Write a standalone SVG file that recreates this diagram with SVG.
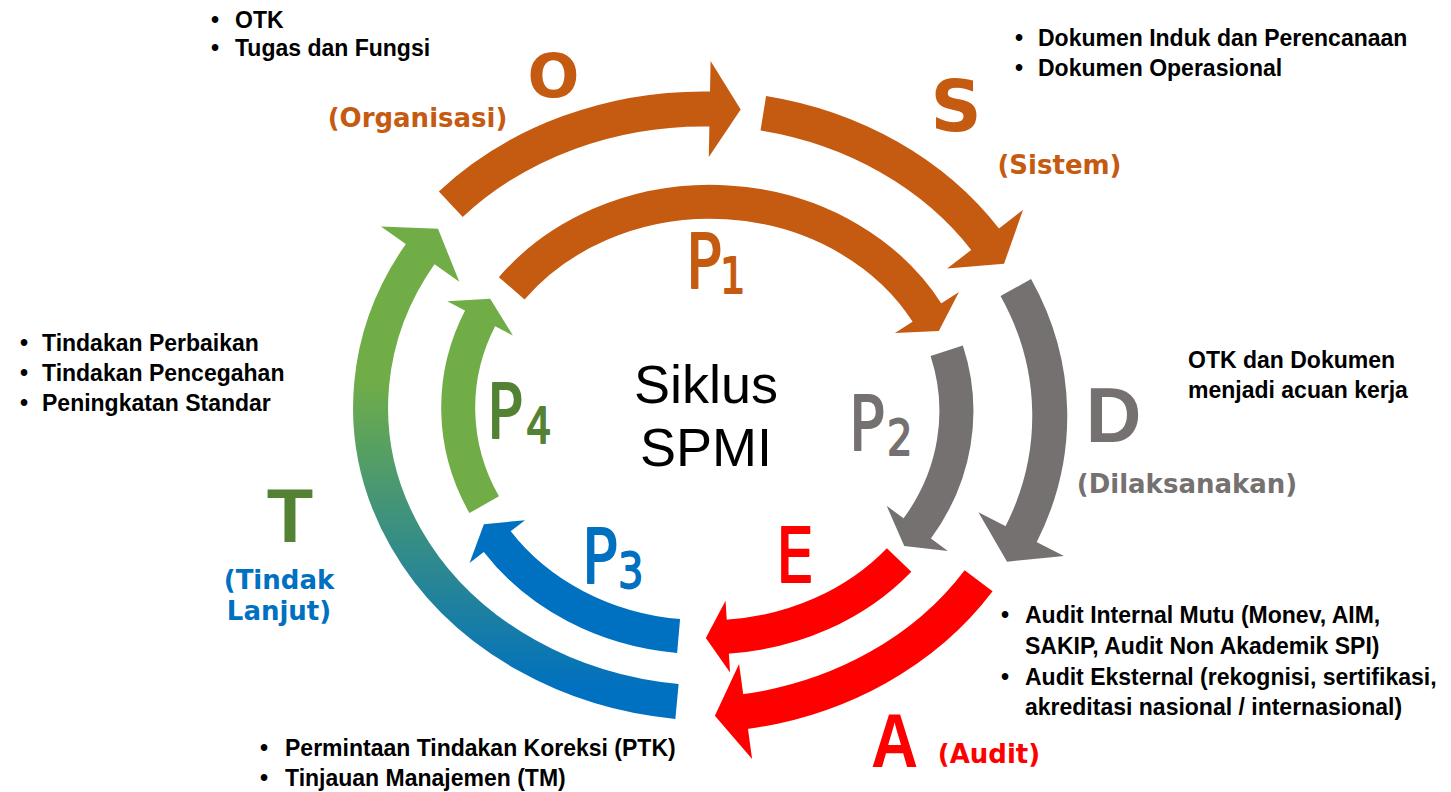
<svg xmlns="http://www.w3.org/2000/svg" width="1451" height="792" viewBox="0 0 1451 792">
<style>
.b{font-family:"Liberation Sans",Arial,sans-serif;font-weight:bold;font-size:23px;fill:#000}
.lab{font-family:"DejaVu Sans",Verdana,sans-serif;font-weight:bold;font-size:26px}
.big{font-family:"Liberation Sans",Arial,sans-serif;font-weight:bold}
.vb{font-family:"DejaVu Sans",Verdana,sans-serif;font-weight:bold}
.cn{font-family:"DejaVu Sans",Verdana,sans-serif;font-weight:normal;stroke-width:1.8px;stroke-linejoin:round}
.ctr{font-family:"Liberation Sans",Arial,sans-serif;font-size:54px;fill:#000;text-anchor:middle}
.arc{fill:none;stroke-linecap:butt}
.o{stroke-width:35px}
.i{stroke-width:34px}
</style>
<defs>
<linearGradient id="gT" gradientUnits="userSpaceOnUse" x1="0" y1="380" x2="0" y2="690">
<stop offset="0" stop-color="#70AD47"/>
<stop offset="1" stop-color="#0070C0"/>
</linearGradient>
<marker id="mOo" markerUnits="userSpaceOnUse" orient="auto" viewBox="-2 -50 40 100" markerWidth="40" markerHeight="100" refX="0" refY="0" overflow="visible"><path d="M-1,-48 L30,0 L-1,48 Z" fill="#C55A11"/></marker>
<marker id="mOg" markerUnits="userSpaceOnUse" orient="auto" viewBox="-2 -50 40 100" markerWidth="40" markerHeight="100" refX="0" refY="0" overflow="visible"><path d="M-1,-48 L30,0 L-1,48 Z" fill="#767171"/></marker>
<marker id="mOr" markerUnits="userSpaceOnUse" orient="auto" viewBox="-2 -50 40 100" markerWidth="40" markerHeight="100" refX="0" refY="0" overflow="visible"><path d="M-1,-48 L30,0 L-1,48 Z" fill="#FF0000"/></marker>
<marker id="mOn" markerUnits="userSpaceOnUse" orient="auto" viewBox="-2 -50 40 100" markerWidth="40" markerHeight="100" refX="0" refY="0" overflow="visible"><path d="M-1,-48 L30,0 L-1,48 Z" fill="#70AD47"/></marker>
<marker id="mIo" markerUnits="userSpaceOnUse" orient="auto" viewBox="-2 -40 30 80" markerWidth="30" markerHeight="80" refX="0" refY="0" overflow="visible"><path d="M-1,-38 L21,0 L-1,38 Z" fill="#C55A11"/></marker>
<marker id="mIg" markerUnits="userSpaceOnUse" orient="auto" viewBox="-2 -40 30 80" markerWidth="30" markerHeight="80" refX="0" refY="0" overflow="visible"><path d="M-1,-38 L21,0 L-1,38 Z" fill="#767171"/></marker>
<marker id="mIr" markerUnits="userSpaceOnUse" orient="auto" viewBox="-2 -40 30 80" markerWidth="30" markerHeight="80" refX="0" refY="0" overflow="visible"><path d="M-1,-36 L21,0 L-1,36 Z" fill="#FF0000"/></marker>
<marker id="mIb" markerUnits="userSpaceOnUse" orient="auto" viewBox="-2 -40 30 80" markerWidth="30" markerHeight="80" refX="0" refY="0" overflow="visible"><path d="M-1,-35 L21,0 L-1,35 Z" fill="#0070C0"/></marker>
<marker id="mIn" markerUnits="userSpaceOnUse" orient="auto" viewBox="-2 -40 30 80" markerWidth="30" markerHeight="80" refX="0" refY="0" overflow="visible"><path d="M-1,-37 L21,0 L-1,37 Z" fill="#70AD47"/></marker>
</defs>
<rect width="1451" height="792" fill="#fff"/>

<g id="connectors">
<path id="arrow-O" class="arc o" stroke="#C55A11" d="M450.8,204.2 A343.5,296 0 0 1 710.7,109" marker-end="url(#mOo)"/>
<path id="arrow-S" class="arc o" stroke="#C55A11" d="M763.3,113.3 A343.5,296 0 0 1 985.7,240" marker-end="url(#mOo)"/>
<path id="arrow-D" class="arc o" stroke="#767171" d="M1015.8,287.5 A343.5,296 0 0 1 1020.7,535" marker-end="url(#mOg)"/>
<path id="arrow-A" class="arc o" stroke="#FF0000" d="M978.6,580.8 A343.5,296 0 0 1 744.6,711.7" marker-end="url(#mOr)"/>
<path id="arrow-T" class="arc o" stroke="url(#gT)" d="M677,701.5 A343.5,296 0 0 1 420.7,253.3" marker-end="url(#mOn)"/>
<path id="arrow-P1" class="arc i" stroke="#C55A11" d="M511.7,288.3 A249,218 0 0 1 927.5,313.3" marker-end="url(#mIo)"/>
<path id="arrow-P2" class="arc i" stroke="#767171" d="M946.7,350.8 A249,218 0 0 1 916.7,529.2" marker-end="url(#mIg)"/>
<path id="arrow-E" class="arc i" stroke="#FF0000" d="M899.1,560 A249,218 0 0 1 726.8,636.7" marker-end="url(#mIr)"/>
<path id="arrow-P3" class="arc i" stroke="#0070C0" d="M678.6,636 A249,218 0 0 1 496.7,540.8" marker-end="url(#mIb)"/>
<path id="arrow-P4" class="arc i" stroke="#70AD47" d="M484.2,504.7 A249,218 0 0 1 480.5,317.5" marker-end="url(#mIn)"/>
</g>

<g id="node-center">
<text class="ctr" x="706" y="403">Siklus</text>
<text class="ctr" x="706" y="466">SPMI</text>
</g>

<g id="node-O">
<text class="vb" font-size="61" fill="#C55A11" text-anchor="middle" x="553.5" y="97">O</text>
<text class="lab" fill="#C55A11" text-anchor="middle" x="417.5" y="127">(Organisasi)</text>
<text class="b" x="211" y="28">•</text><text class="b" x="235" y="28">OTK</text>
<text class="b" x="211" y="56">•</text><text class="b" x="235" y="56">Tugas dan Fungsi</text>
</g>

<g id="node-S">
<text class="vb" font-size="71" fill="#C55A11" text-anchor="middle" x="956" y="131">S</text>
<text class="lab" fill="#C55A11" text-anchor="middle" x="1059.5" y="174">(Sistem)</text>
<text class="b" x="1015" y="46">•</text><text class="b" x="1038" y="46">Dokumen Induk dan Perencanaan</text>
<text class="b" x="1015" y="76">•</text><text class="b" x="1038" y="76">Dokumen Operasional</text>
</g>

<g id="node-D">
<text class="big" font-size="77" fill="#767171" text-anchor="middle" x="1113.5" y="442">D</text>
<text class="lab" fill="#767171" text-anchor="middle" x="1187" y="493">(Dilaksanakan)</text>
<text class="b" x="1188" y="368">OTK dan Dokumen</text>
<text class="b" x="1188" y="398">menjadi acuan kerja</text>
</g>

<g id="node-A">
<text class="big" font-size="76" fill="#FF0000" text-anchor="middle" transform="translate(894.5,767) scale(0.86,1)">A</text>
<text class="lab" fill="#FF0000" text-anchor="middle" x="989" y="763">(Audit)</text>
<text class="b" x="1001" y="623">•</text><text class="b" x="1025" y="623">Audit Internal Mutu (Monev, AIM,</text>
<text class="b" x="1025" y="654">SAKIP, Audit Non Akademik SPI)</text>
<text class="b" x="1001" y="685">•</text><text class="b" x="1025" y="685">Audit Eksternal (rekognisi, sertifikasi,</text>
<text class="b" x="1025" y="715">akreditasi nasional / internasional)</text>
</g>

<g id="node-T">
<text class="big" font-size="76" fill="#548235" text-anchor="middle" x="290" y="542">T</text>
<text class="lab" fill="#0070C0" text-anchor="middle" x="279" y="589">(Tindak</text>
<text class="lab" fill="#0070C0" text-anchor="middle" x="279" y="620">Lanjut)</text>
<text class="b" x="20" y="351">•</text><text class="b" x="42" y="351">Tindakan Perbaikan</text>
<text class="b" x="20" y="381">•</text><text class="b" x="42" y="381">Tindakan Pencegahan</text>
<text class="b" x="20" y="411">•</text><text class="b" x="42" y="411">Peningkatan Standar</text>
<text class="b" x="260" y="756">•</text><text class="b" x="285" y="756">Permintaan Tindakan Koreksi (PTK)</text>
<text class="b" x="260" y="786">•</text><text class="b" x="285" y="786">Tinjauan Manajemen (TM)</text>
</g>

<g id="node-P1">
<text class="cn" font-size="74" fill="#C55A11" stroke="#C55A11" transform="translate(686,288) scale(0.8,1)">P</text>
<text class="cn" font-size="50" fill="#C55A11" stroke="#C55A11" transform="translate(720,293) scale(0.8,1)">1</text>
</g>
<g id="node-P2">
<text class="cn" font-size="74" fill="#767171" stroke="#767171" transform="translate(849,450) scale(0.8,1)">P</text>
<text class="cn" font-size="50" fill="#767171" stroke="#767171" transform="translate(887,455) scale(0.8,1)">2</text>
</g>
<g id="node-E">
<text class="cn" font-size="75" fill="#FF0000" stroke="#FF0000" transform="translate(776,582) scale(0.8,1)">E</text>
</g>
<g id="node-P3">
<text class="cn" font-size="74" fill="#0070C0" stroke="#0070C0" transform="translate(582,583) scale(0.8,1)">P</text>
<text class="cn" font-size="50" fill="#0070C0" stroke="#0070C0" transform="translate(618,588) scale(0.8,1)">3</text>
</g>
<g id="node-P4">
<text class="cn" font-size="74" fill="#548235" stroke="#548235" transform="translate(487,438) scale(0.8,1)">P</text>
<text class="cn" font-size="50" fill="#548235" stroke="#548235" transform="translate(526,443) scale(0.8,1)">4</text>
</g>
</svg>
